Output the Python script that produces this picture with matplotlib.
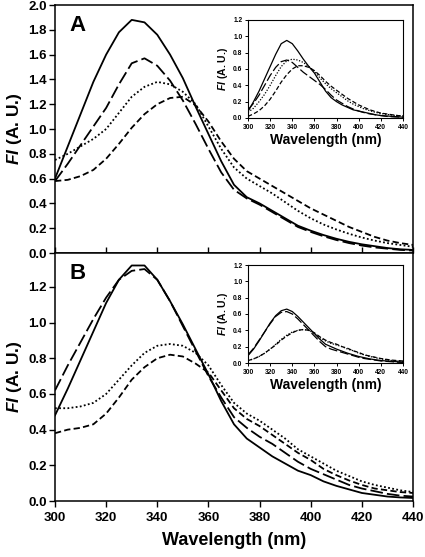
import numpy as np
import matplotlib
matplotlib.use("Agg")
import matplotlib.pyplot as plt

plt.rcParams["font.family"] = ["Liberation Sans", "DejaVu Sans"]
plt.rcParams["font.weight"] = "bold"
plt.rcParams["mathtext.fontset"] = "custom"
plt.rcParams["mathtext.bfit"] = "Liberation Sans:italic:bold"
plt.rcParams["mathtext.rm"] = "Liberation Sans:bold"

# wavelength grid (nm), shared by every series
wl = np.arange(300, 441, 5)

# ---- panel A, main spectra ----
a_solid = [0.60, 0.86, 1.12, 1.38, 1.60, 1.78, 1.88, 1.86, 1.76, 1.60, 1.41, 1.18, 0.96, 0.74, 0.55,
           0.45, 0.40, 0.34, 0.28, 0.22, 0.18, 0.145, 0.115, 0.09, 0.07, 0.055, 0.04, 0.03, 0.025]
a_long = [0.58, 0.72, 0.87, 1.02, 1.17, 1.36, 1.53, 1.57, 1.51, 1.39, 1.23, 1.04, 0.84, 0.65, 0.51,
          0.44, 0.39, 0.33, 0.27, 0.21, 0.17, 0.135, 0.105, 0.08, 0.06, 0.045, 0.035, 0.025, 0.02]
a_dot = [0.75, 0.80, 0.86, 0.92, 1.00, 1.13, 1.26, 1.34, 1.38, 1.36, 1.30, 1.20, 1.02, 0.84, 0.69,
         0.60, 0.54, 0.48, 0.41, 0.34, 0.28, 0.23, 0.19, 0.155, 0.125, 0.10, 0.08, 0.065, 0.05]
a_short = [0.58, 0.59, 0.62, 0.67, 0.76, 0.88, 1.01, 1.12, 1.20, 1.25, 1.26, 1.19, 1.06, 0.90, 0.76,
           0.66, 0.60, 0.54, 0.48, 0.42, 0.36, 0.31, 0.26, 0.21, 0.17, 0.13, 0.10, 0.08, 0.065]

# ---- panel B, main spectra ----
b_solid = [0.48, 0.63, 0.79, 0.95, 1.11, 1.24, 1.32, 1.32, 1.24, 1.12, 0.99, 0.85, 0.71, 0.56, 0.43,
           0.35, 0.30, 0.25, 0.21, 0.17, 0.145, 0.11, 0.085, 0.065, 0.045, 0.035, 0.025, 0.02, 0.017]
b_long = [0.62, 0.76, 0.89, 1.02, 1.14, 1.24, 1.29, 1.30, 1.24, 1.12, 0.98, 0.84, 0.70, 0.58, 0.47,
          0.41, 0.36, 0.32, 0.27, 0.22, 0.18, 0.15, 0.12, 0.09, 0.07, 0.055, 0.04, 0.03, 0.025]
b_dot = [0.52, 0.52, 0.53, 0.55, 0.60, 0.68, 0.76, 0.83, 0.87, 0.88, 0.87, 0.83, 0.76, 0.65, 0.55,
         0.49, 0.45, 0.40, 0.35, 0.29, 0.25, 0.21, 0.17, 0.14, 0.11, 0.09, 0.075, 0.06, 0.05]
b_short = [0.38, 0.40, 0.41, 0.43, 0.49, 0.58, 0.68, 0.75, 0.80, 0.82, 0.81, 0.77, 0.72, 0.62, 0.52,
           0.46, 0.42, 0.37, 0.32, 0.27, 0.23, 0.18, 0.145, 0.115, 0.09, 0.07, 0.06, 0.05, 0.045]

# ---- insets ----
ia_solid = [0.08, 0.20, 0.33, 0.48, 0.63, 0.78, 0.91, 0.95, 0.91, 0.82, 0.72, 0.63, 0.55, 0.44, 0.33,
            0.25, 0.20, 0.16, 0.13, 0.10, 0.085, 0.07, 0.055, 0.04, 0.03, 0.025, 0.02, 0.015, 0.01]
ia_long = [0.10, 0.18, 0.28, 0.40, 0.52, 0.62, 0.69, 0.71, 0.68, 0.62, 0.56, 0.51, 0.46, 0.41, 0.35,
           0.28, 0.22, 0.18, 0.14, 0.11, 0.085, 0.065, 0.05, 0.04, 0.03, 0.02, 0.015, 0.012, 0.01]
ia_dot = [0.07, 0.12, 0.20, 0.29, 0.40, 0.52, 0.63, 0.70, 0.72, 0.71, 0.68, 0.63, 0.57, 0.49, 0.42,
          0.36, 0.31, 0.26, 0.21, 0.17, 0.14, 0.11, 0.09, 0.07, 0.055, 0.045, 0.035, 0.03, 0.025]
ia_short = [0.02, 0.05, 0.09, 0.15, 0.23, 0.33, 0.44, 0.53, 0.60, 0.64, 0.64, 0.62, 0.58, 0.52, 0.45,
            0.39, 0.34, 0.29, 0.24, 0.20, 0.16, 0.13, 0.10, 0.08, 0.06, 0.05, 0.04, 0.03, 0.025]

ib_solid = [0.09, 0.17, 0.27, 0.38, 0.49, 0.58, 0.64, 0.66, 0.63, 0.57, 0.50, 0.43, 0.36, 0.29, 0.23,
            0.20, 0.17, 0.145, 0.12, 0.10, 0.08, 0.065, 0.05, 0.04, 0.03, 0.025, 0.02, 0.015, 0.01]
ib_long = [0.10, 0.18, 0.28, 0.38, 0.48, 0.57, 0.62, 0.63, 0.60, 0.54, 0.47, 0.40, 0.33, 0.26, 0.20,
           0.17, 0.15, 0.13, 0.11, 0.09, 0.07, 0.055, 0.045, 0.035, 0.025, 0.02, 0.015, 0.01, 0.008]
ib_dot = [0.03, 0.05, 0.08, 0.12, 0.17, 0.23, 0.29, 0.34, 0.38, 0.40, 0.41, 0.40, 0.36, 0.31, 0.27,
          0.24, 0.22, 0.20, 0.17, 0.15, 0.12, 0.10, 0.08, 0.065, 0.05, 0.04, 0.03, 0.025, 0.02]
ib_short = [0.03, 0.05, 0.08, 0.12, 0.17, 0.22, 0.28, 0.33, 0.37, 0.40, 0.41, 0.40, 0.37, 0.32, 0.28,
            0.25, 0.23, 0.20, 0.18, 0.15, 0.13, 0.10, 0.085, 0.07, 0.055, 0.045, 0.035, 0.03, 0.025]

xticks = [300, 320, 340, 360, 380, 400, 420, 440]
YLABEL = r"$\mathbfit{FI}$ (A. U.)"

# dash patterns (scaled by linewidth)
STYLES = {
    "solid": dict(linestyle="-"),
    "long": dict(linestyle=(0, (7, 2.3))),
    "dot": dict(linestyle=(0, (1, 1.3))),
    "short": dict(linestyle=(0, (3.5, 1.8))),
}


def draw_set(ax, series, lw):
    for key, y in series:
        ax.plot(wl, y, color="black", lw=lw, solid_joinstyle="round",
                dash_joinstyle="round", **STYLES[key])


fig = plt.figure(figsize=(4.25, 5.57), dpi=100)

L, W = 55 / 425, 358 / 425
H = 248 / 557
ax_a = fig.add_axes([L, 1 - 253 / 557, W, H])
ax_b = fig.add_axes([L, 1 - 501 / 557, W, H])

draw_set(ax_a, [("solid", a_solid), ("long", a_long), ("dot", a_dot), ("short", a_short)], 1.3)
draw_set(ax_b, [("solid", b_solid), ("long", b_long), ("dot", b_dot), ("short", b_short)], 1.3)

for ax in (ax_a, ax_b):
    ax.set_xlim(300, 440)
    ax.set_xticks(xticks)
    for s in ax.spines.values():
        s.set_linewidth(1.1)
    ax.tick_params(axis="y", direction="out", length=4, width=1.0, labelsize=9.5, pad=2)
    ax.tick_params(axis="x", length=4, width=1.0, labelsize=9.5)
    ax.set_ylabel(YLABEL, fontsize=12.5, fontweight="bold", labelpad=3)

ax_a.set_ylim(0, 2.0)
ax_a.set_yticks(np.arange(0, 2.01, 0.2))
ax_a.set_yticklabels([f"{v:.1f}" for v in np.arange(0, 2.01, 0.2)], fontweight="bold")
ax_a.tick_params(axis="x", direction="in", labelbottom=False)

ax_b.set_ylim(0, 1.39)
ax_b.set_yticks(np.arange(0, 1.21, 0.2))
ax_b.set_yticklabels([f"{v:.1f}" for v in np.arange(0, 1.21, 0.2)], fontweight="bold")
ax_b.tick_params(axis="x", direction="out", pad=4)
ax_b.set_xticklabels([str(v) for v in xticks], fontweight="bold")
ax_b.set_xlabel("Wavelength (nm)", fontsize=13, fontweight="bold", labelpad=6)

ax_a.text(0.04, 0.96, "A", transform=ax_a.transAxes, fontsize=16, fontweight="bold", va="top")
ax_b.text(0.04, 0.96, "B", transform=ax_b.transAxes, fontsize=16, fontweight="bold", va="top")

# insets
IL, IW, IH = 248 / 425, 155 / 425, 98 / 557
in_a = fig.add_axes([IL, 1 - 118 / 557, IW, IH])
in_b = fig.add_axes([IL, 1 - 363 / 557, IW, IH])
draw_set(in_a, [("solid", ia_solid), ("long", ia_long), ("dot", ia_dot), ("short", ia_short)], 0.9)
draw_set(in_b, [("solid", ib_solid), ("long", ib_long), ("dot", ib_dot), ("short", ib_short)], 0.9)

for ax in (in_a, in_b):
    ax.set_xlim(300, 440)
    ax.set_ylim(0, 1.2)
    ax.set_xticks(xticks)
    ax.set_yticks(np.arange(0, 1.21, 0.2))
    ax.set_xticklabels([str(v) for v in xticks], fontweight="bold")
    ax.set_yticklabels([f"{v:.1f}" for v in np.arange(0, 1.21, 0.2)], fontweight="bold")
    ax.tick_params(direction="out", length=2.5, width=0.7, labelsize=4.8, pad=1.5)
    for s in ax.spines.values():
        s.set_linewidth(0.8)
    ax.set_xlabel("Wavelength (nm)", fontsize=10, fontweight="bold", labelpad=2)
    ax.set_ylabel(YLABEL, fontsize=7.5, fontweight="bold", labelpad=2)

fig.savefig("out.png", dpi=100)
